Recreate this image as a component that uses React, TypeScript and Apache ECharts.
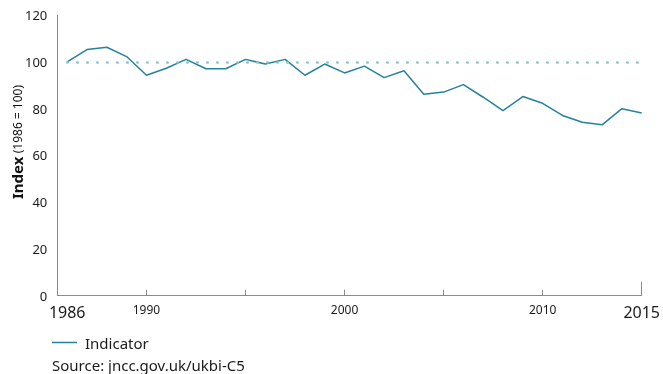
import React, { useEffect, useRef } from "react";
import * as echarts from "echarts";

const years = [1986, 1987, 1988, 1989, 1990, 1991, 1992, 1993, 1994, 1995, 1996, 1997, 1998, 1999, 2000, 2001, 2002, 2003, 2004, 2005, 2006, 2007, 2008, 2009, 2010, 2011, 2012, 2013, 2014, 2015];
const indicator = [100, 105.3, 106.3, 102.3, 94.3, 97.3, 101.1, 97.1, 97.1, 101.1, 99.1, 101.1, 94.3, 99.1, 95.3, 98.2, 93.3, 96.2, 86.2, 87.1, 90.3, 84.9, 79.2, 85.2, 82.3, 77.1, 74.2, 73.1, 80.0, 78.2];
const baseline = 100;
const xTickValues = [1990, 1995, 2000, 2005, 2010, 2015];
const xLabelValues = [1986, 1990, 2000, 2010, 2015];
const xBigLabels = [1986, 2015];
const seriesName = "Indicator";
const sourceText = "Source: jncc.gov.uk/ukbi-C5";

const FONT = "Noto Sans";
const LINE = "#24839a";
const DOT = "#8cc4cd";
const AXIS = "#8a8a8a";

export default function App() {
  const ref = useRef<HTMLDivElement>(null);
  useEffect(() => {
    if (!ref.current) return;
    const chart = echarts.init(ref.current, undefined, { renderer: "svg" });
    chart.setOption({
      animation: false,
      textStyle: { fontFamily: FONT },
      grid: { left: 57.3, right: 19.7, top: 15.2, bottom: 78.3 },
      xAxis: {
        type: "value",
        min: 1985.5,
        max: years[years.length - 1],
        axisLine: { show: true, lineStyle: { color: AXIS, width: 1 } },
        splitLine: { show: false },
        axisTick: {
          show: true,
          inside: true,
          length: 6,
          customValues: xTickValues,
          lineStyle: { color: AXIS },
        },
        axisLabel: {
          customValues: xLabelValues,
          margin: 8,
          color: "#1a1a1a",
          fontFamily: FONT,
          formatter: (v: number) =>
            xBigLabels.includes(v) ? `{big|${v}}` : `{small|${v}}`,
          rich: {
            big: { fontSize: 16, fontFamily: FONT, color: "#1a1a1a" },
            small: { fontSize: 12, fontFamily: FONT, color: "#1a1a1a" },
          },
        },
      },
      yAxis: {
        type: "value",
        min: 0,
        max: 120,
        interval: 20,
        axisLine: { show: true, lineStyle: { color: AXIS, width: 1 } },
        axisTick: { show: false },
        splitLine: { show: false },
        axisLabel: { fontSize: 13, color: "#1a1a1a", margin: 10, fontFamily: FONT },
      },
      legend: {
        left: 47,
        top: 330,
        icon: "rect",
        itemWidth: 25,
        itemHeight: 1.5,
        itemGap: 10,
        textStyle: { fontSize: 15, color: "#1a1a1a", fontFamily: FONT, padding: [0, 0, 0, 3] },
        data: [seriesName],
      },
      graphic: [
        {
          type: "text",
          x: 17,
          y: 142,
          rotation: Math.PI / 2,
          style: {
            text: "{b|Index} {s|(1986 = 100)}",
            rich: {
              b: { fontSize: 15, fontWeight: "bold", fontFamily: FONT, fill: "#111" },
              s: { fontSize: 12, fontFamily: FONT, fill: "#111" },
            },
            align: "center",
            verticalAlign: "middle",
          },
        },
        {
          type: "text",
          left: 52,
          top: 357,
          style: { text: sourceText, fontSize: 15, fontFamily: FONT, fill: "#1a1a1a" },
        },
      ],
      series: [
        {
          name: seriesName,
          type: "line",
          data: years.map((y, i) => [y, indicator[i]]),
          showSymbol: false,
          symbol: "none",
          lineStyle: { color: LINE, width: 1.5 },
          itemStyle: { color: LINE },
          z: 3,
          markLine: {
            silent: true,
            symbol: ["none", "none"],
            label: { show: false },
            lineStyle: { color: DOT, width: 2.5, type: [0.5, 9.5], cap: "round" },
            emphasis: { disabled: true },
            data: [
              [
                { coord: [years[0], baseline] },
                { coord: [years[years.length - 1], baseline] },
              ],
            ],
          },
        },
        {
          type: "line",
          data: [],
          silent: true,
          markLine: {
            silent: true,
            symbol: ["none", "none"],
            label: { show: false },
            lineStyle: { color: AXIS, width: 1, type: "solid" },
            emphasis: { disabled: true },
            data: [
              [
                { coord: [xTickValues[xTickValues.length - 1], 0] },
                { coord: [xTickValues[xTickValues.length - 1], 6] },
              ],
            ],
          },
        },
      ],
    });
    return () => chart.dispose();
  }, []);
  return (
    <div
      ref={ref}
      style={{ position: "fixed", left: 0, top: 0, width: 663, height: 374 }}
    />
  );
}
